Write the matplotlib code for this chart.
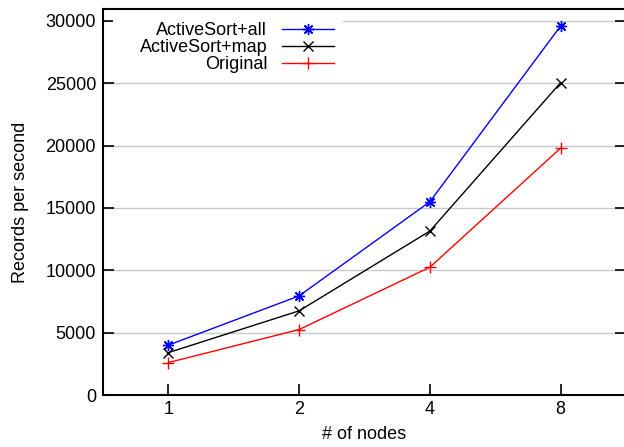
import matplotlib
matplotlib.use("Agg")
import matplotlib.pyplot as plt
from matplotlib.patches import Rectangle

plt.rcParams['font.family'] = ['Liberation Sans', 'DejaVu Sans']

nodes = ["1", "2", "4", "8"]
active_all = [4000, 7950, 15500, 29600]
active_map = [3400, 6750, 13150, 25050]
original = [2600, 5250, 10250, 19800]
yticks = [0, 5000, 10000, 15000, 20000, 25000, 30000]

W, H = 624, 447
fig = plt.figure(figsize=(6.24, 4.47), dpi=100)
ax = fig.add_axes([103/W, 52/H, (626-103)/W, (395-9)/H])

x = list(range(len(nodes)))
ax.plot(x, active_all, color='#0000ff', lw=1, marker=(8, 2, 0), ms=8, mew=1, label='ActiveSort+all')
ax.plot(x, active_map, color='black', lw=1, marker='x', ms=7, mew=1, label='ActiveSort+map')
ax.plot(x, original, color='#ff0000', lw=1, marker='+', ms=8, mew=1, label='Original')

ax.set_xlim(-0.5, 3.5)
ax.set_ylim(0, 30960)
ax.set_xticks(x)
ax.set_xticklabels(nodes)
ax.set_yticks(yticks)
ax.set_yticklabels([str(v) for v in yticks])
ax.yaxis.grid(True, color='#c8c8c8', lw=1)
ax.set_axisbelow(True)
ax.tick_params(direction='in', length=8, width=1.2, labelsize=13, right=True)
ax.tick_params(axis='y', pad=5)
ax.tick_params(axis='x', pad=4)
for s in ax.spines.values():
    s.set_linewidth(1.5)

# white key background covering grid behind the legend area (gnuplot style)
ax.add_patch(Rectangle((113/W, 1 - 72/H), (343-113)/W, (72-12)/H,
                       transform=fig.transFigure, facecolor='white',
                       edgecolor='none', zorder=1.5))

ax.set_xlabel('# of nodes', fontsize=13, labelpad=6)
ax.set_ylabel('Records per second', fontsize=13, labelpad=12)

leg = ax.legend(loc='upper right', bbox_to_anchor=(343/W, 1 - 13/H),
                bbox_transform=fig.transFigure, markerfirst=False,
                frameon=True, fontsize=13, handlelength=2.9, handletextpad=0.8,
                labelspacing=0.0, borderpad=0.5, borderaxespad=0)
leg.get_frame().set_edgecolor('none')
leg.get_frame().set_facecolor('white')
leg.get_frame().set_alpha(1)
leg.get_frame().set_boxstyle('square', pad=0)
for t in leg.get_texts():
    t.set_ha('right')
leg._legend_box.align = 'right'

fig.savefig('out.png', dpi=100)
